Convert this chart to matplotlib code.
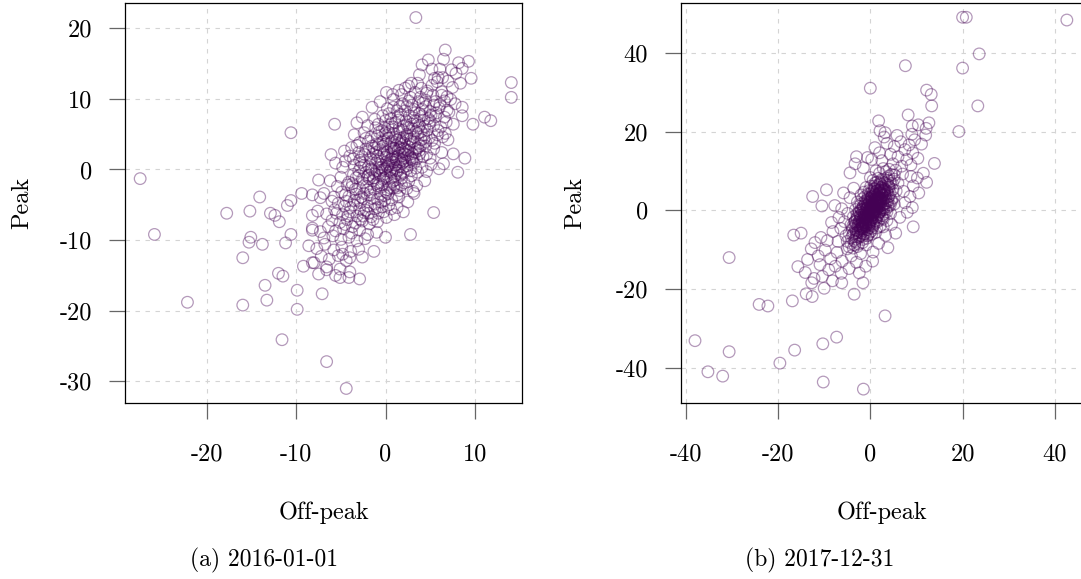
import matplotlib
matplotlib.use("Agg")
import matplotlib.pyplot as plt

# (a) 2016-01-01 : scattered points outside the main cloud
off_a_tail = [3.4, -27.5, -25.9, -22.2, -17.8, -16.0, -16.0, -15.2, -15.1, -15.3, -14.1, -13.8, -13.5, -13.3,
              -12.9, -12.4, -11.9, -12.0, -11.5, -11.6, -10.6, -11.0, -10.6, -10.6, -11.2, -9.4, -9.9, -9.9,
              -8.2, -7.3, -8.2, -8.2, -9.2, -8.2, -7.1, -6.6, -4.4, -6.6, -5.1, -5.1, -4.1, -2.9, -4.0, -4.0,
              -4.8, -1.3, -5.7, -6.1, -7.5, 5.4, 2.8, 8.1, 8.9, 14.1, 14.1, 11.1, 11.8, 9.8, 9.6, 9.3, 6.7,
              6.5, 4.1, 5.2, 5.9, 7.4, 8.6, 0.1, 8.6, 7.6, 6.5]
peak_a_tail = [21.5, -1.3, -9.2, -18.8, -6.2, -12.5, -19.2, -5.9, -9.6, -10.3, -3.9, -10.6, -16.4, -18.5,
               -6.2, -6.5, -7.4, -14.7, -15.1, -24.1, 5.2, -5.1, -4.4, -9.2, -10.4, -3.4, -17.1, -19.8,
               -3.6, -4.0, -6.5, -8.6, -13.7, -13.2, -17.6, -27.2, -31.0, -13.8, -14.1, -15.3, -15.3, -15.5,
               -14.5, -12.5, -12.0, -11.6, 6.4, 2.1, -1.5, -6.1, -9.2, -0.4, 1.6, 12.3, 10.2, 7.4, 6.9, 6.4,
               12.9, 15.3, 16.9, 15.6, 14.8, 14.2, 13.0, 14.1, 14.3, 10.9, 7.6, 2.2, 0.8]

# (a) main cloud
core_a = [
    (4.8, 15.5), (6.1, 14.2), (7.9, 13.6), (5.5, 12.9), (3.8, 13.4), (7.0, 12.5), (8.2, 15.1), (2.9, 12.2),
    (1.5, 11.2), (2.6, 11.8), (4.0, 11.5), (5.2, 11.9), (6.3, 11.0), (7.5, 11.6), (3.3, 10.9), (8.4, 12.2),
    (0.8, 10.6), (5.8, 12.4), (4.6, 10.8), (6.9, 10.3),
    (-0.6, 9.6), (0.9, 9.9), (1.9, 9.3), (2.8, 10.2), (3.7, 9.6), (4.5, 9.8), (5.4, 9.1), (6.6, 9.7),
    (7.8, 9.3), (-1.5, 8.8), (0.2, 8.6), (1.3, 8.3), (2.4, 8.9), (3.2, 8.0), (4.1, 8.5), (5.0, 8.2),
    (6.0, 8.7), (7.1, 8.1), (8.6, 8.8),
    (-2.6, 7.4), (-1.2, 7.1), (-0.3, 7.6), (0.6, 7.2), (1.7, 7.8), (2.3, 6.9), (3.1, 7.3), (4.3, 7.0),
    (5.6, 7.5), (6.8, 6.7), (-2.0, 6.2), (-0.8, 6.4), (0.3, 6.0), (1.1, 6.6), (2.0, 6.1), (2.9, 6.4),
    (3.8, 6.2), (4.9, 6.5), (6.2, 6.0), (7.6, 6.4), (1.5, 7.0), (3.5, 6.8), (-3.2, 6.6), (0.0, 6.9),
    (-3.5, 4.9), (-2.4, 5.2), (-1.6, 4.6), (-0.7, 5.3), (0.1, 4.8), (0.9, 5.1), (1.6, 4.4), (2.4, 5.0),
    (3.2, 4.6), (4.0, 5.3), (4.9, 4.5), (5.8, 4.9), (7.0, 4.2), (-2.9, 3.8), (-1.9, 4.0), (-1.0, 3.6),
    (-0.2, 4.1), (0.6, 3.8), (1.3, 4.2), (2.1, 3.7), (2.9, 4.0), (3.7, 3.6), (4.5, 3.9), (5.5, 3.7),
    (6.4, 4.6), (-0.4, 5.5), (1.9, 5.6), (3.4, 5.4),
    (-4.6, 2.6), (-3.8, 3.1), (-3.0, 2.4), (-2.2, 2.9), (-1.4, 2.2), (-0.6, 2.8), (0.2, 2.5), (0.9, 3.0),
    (1.6, 2.3), (2.3, 2.8), (3.0, 2.2), (3.8, 2.7), (4.6, 2.1), (5.4, 2.9), (6.3, 2.4), (-2.6, 1.8),
    (-1.7, 1.6), (-0.9, 1.9), (0.0, 1.7), (0.7, 1.5), (1.4, 1.9), (2.1, 1.6), (2.8, 1.8), (3.5, 1.5),
    (4.2, 1.8), (5.0, 1.6), (-0.3, 3.3), (1.2, 3.4), (2.6, 3.2), (-3.6, 1.5),
    (-5.6, 0.9), (-4.5, 1.2), (-3.5, 0.6), (-2.7, 1.0), (-1.9, 0.4), (-1.1, 0.9), (-0.4, 0.3), (0.3, 0.8),
    (1.0, 0.2), (1.7, 1.1), (2.4, 0.5), (3.2, 0.9), (4.1, 0.3), (5.1, 0.7), (6.0, 0.1), (-3.0, -0.2),
    (-2.2, -0.4), (-1.5, -0.1), (-0.7, -0.5), (0.0, -0.2), (0.7, -0.4), (1.3, -0.1), (2.0, -0.5),
    (2.8, -0.2), (3.6, -0.4), (4.6, -0.3), (0.5, 1.3), (-0.9, 1.2),
    (-6.2, -1.6), (-5.0, -1.1), (-4.1, -1.8), (-3.3, -1.2), (-2.5, -1.9), (-1.8, -1.3), (-1.0, -2.0),
    (-0.3, -1.4), (0.4, -2.1), (1.1, -1.5), (1.8, -2.2), (2.6, -1.7), (3.5, -2.3), (4.4, -1.6),
    (-3.8, -2.5), (-2.9, -2.7), (-2.1, -2.4), (-1.3, -2.8), (-0.5, -2.5), (0.2, -2.9), (0.9, -2.6),
    (1.6, -3.0), (2.4, -2.7), (3.1, -3.1),
    (-6.9, -3.4), (-5.8, -3.9), (-4.9, -3.2), (-4.1, -3.8), (-3.3, -3.5), (-2.5, -4.1), (-1.7, -3.6),
    (-0.9, -4.2), (-0.1, -3.7), (0.7, -4.3), (1.5, -3.9), (2.5, -4.6), (-5.3, -4.8), (-4.4, -4.5),
    (-3.6, -5.0), (-2.8, -4.7), (-2.0, -5.2), (-1.2, -4.9), (-0.4, -5.3), (0.4, -5.0), (1.3, -5.4),
    (3.2, -3.4),
    (-7.6, -5.9), (-6.6, -6.3), (-5.7, -5.7), (-4.8, -6.4), (-4.0, -6.0), (-3.2, -6.6), (-2.4, -6.1),
    (-1.6, -6.7), (-0.8, -6.2), (0.1, -6.8), (1.0, -6.4), (-6.0, -7.2), (-5.1, -7.5), (-4.3, -7.1),
    (-3.4, -7.6), (-2.6, -7.3), (-1.8, -7.7), (-0.9, -7.4), (2.0, -6.0),
    (-8.2, -8.3), (-7.3, -8.8), (-6.4, -8.1), (-5.6, -8.7), (-4.7, -8.4), (-3.8, -9.0), (-2.9, -8.6),
    (-2.0, -9.2), (-1.0, -8.9), (-6.9, -9.7), (-5.9, -9.4), (-5.0, -9.9), (-4.1, -9.6), (-3.2, -10.1),
    (-2.3, -9.8), (0.0, -9.6),
    (-8.6, -10.8), (-7.7, -11.2), (-6.8, -10.6), (-5.8, -11.4), (-4.9, -11.0), (-3.9, -11.6),
    (-3.0, -11.3), (-7.2, -12.3), (-6.3, -12.7), (-5.3, -12.2), (-4.4, -12.9), (-8.0, -13.2),
    (-2.6, -12.4), (-6.6, -14.2), (-7.5, -14.8), (-5.6, -15.0),
    (0.4, 0.6), (1.2, 1.4), (-0.5, 0.7), (0.8, 2.1), (1.9, 2.5), (-1.2, -0.6), (0.1, -1.0), (2.2, 1.2),
    (-0.2, 2.2), (1.5, 0.4), (2.7, 3.6), (0.6, 3.1), (-1.6, 0.1), (3.0, 1.3), (-0.8, -1.8), (1.0, -0.9),
    (2.3, 4.3), (-1.3, 3.0), (0.3, 4.4), (3.4, 2.9), (1.8, -1.2), (-2.0, -1.0), (0.9, 1.0), (-0.1, 0.1),
    (2.5, 2.0), (1.4, 2.8), (-0.6, -0.8), (3.9, 3.3), (2.0, 3.0), (0.0, 3.6),
    (-4.3, -2.2), (-3.6, -0.7), (-2.8, 0.3), (-2.3, 2.1), (-1.5, 3.3), (-0.9, 4.7), (-0.1, 5.9), (0.7, 6.5),
    (1.4, 7.5), (2.2, 8.3), (3.0, 9.1), (3.9, 10.2), (4.7, 11.1), (5.3, 10.5), (6.1, 9.2), (5.7, 8.0),
    (4.8, 7.2), (4.4, 6.1), (3.6, 5.1), (3.1, 3.9), (2.5, 2.6), (1.9, 1.4), (1.1, 0.6), (0.5, -0.3),
    (-0.2, -1.2), (-0.9, -2.3), (-1.7, -3.2), (-2.4, -3.4), (-3.1, -4.4), (-3.9, -5.4), (-4.6, -5.2),
    (-5.5, -6.2), (-4.5, -7.8), (-3.7, -8.1), (-2.8, -7.1), (-1.9, -6.2), (-1.2, -5.6), (-0.5, -4.6),
    (0.3, -3.4), (1.0, -2.2), (1.7, -0.8), (2.4, 0.1), (3.1, 1.6), (3.8, 2.2), (4.5, 3.3), (5.2, 4.1),
    (5.9, 5.5), (6.6, 7.4), (7.3, 9.9), (-1.1, 5.9), (-2.2, 4.4), (-3.2, 3.4), (-4.0, 1.9), (-4.8, 0.3),
    (-5.4, -2.4), (-6.0, -4.5), (0.9, 8.8), (1.8, 10.6), (2.2, 11.5), (3.6, 12.2), (6.4, 13.0), (6.9, 8.4),
    (5.4, 6.2), (6.7, 5.1), (4.3, 4.4), (3.4, 0.2), (2.9, -0.9), (2.1, -1.9), (1.3, -3.6), (0.6, -5.6),
    (-0.2, -6.0), (-1.4, -7.1), (-2.9, -5.6), (0.2, 0.4), (0.8, 1.8), (1.6, 3.1), (2.0, 4.5), (-0.6, 1.5),
    (-1.0, -0.2), (1.2, -0.5), (1.9, 0.9), (-0.3, 3.9), (0.4, 5.2), (1.1, 4.6), (2.6, 5.9), (3.3, 6.9),
    (-1.9, 2.6), (-2.6, -1.4), (-1.4, -1.6), (0.1, -3.2), (0.8, -1.7), (2.7, 1.1), (3.3, 2.4), (4.0, 4.2),
    (4.7, 5.6), (0.4, 7.9), (2.7, 7.6), (1.6, 5.3), (-0.6, -3.5),
    (0.1, 1.1), (0.9, 2.6), (1.7, 3.6), (2.4, 4.8), (3.0, 5.8), (3.8, 7.9), (4.5, 8.9), (-0.4, -0.1),
    (-1.3, -1.2), (-2.0, -2.9), (-2.7, -3.9), (-3.5, -4.4), (-4.2, -6.6), (1.4, -0.2), (2.0, 0.3),
    (2.9, 1.5), (3.6, 3.0), (4.3, 4.9), (5.0, 6.9), (-1.6, 1.4), (-2.4, 0.6), (-3.0, -0.9), (-3.7, -2.0),
    (-4.5, -3.6), (-0.8, 3.5), (0.0, 5.1), (0.8, 6.0), (1.6, 8.9), (2.6, 9.7), (0.6, -1.2), (1.3, -2.6),
    (-0.1, -4.4), (-0.9, -5.4), (-2.2, -5.8), (1.0, 2.9), (1.8, 3.9), (2.4, 6.3), (3.2, 8.5), (-1.1, 2.4),
    (-1.9, -0.8), (-0.4, -2.2), (0.5, -2.6), (0.2, 2.0), (0.7, 4.0), (1.5, 5.7), (2.8, 4.3), (3.7, 5.9),
    (4.1, 7.6), (-0.7, 0.2), (0.6, 0.0), (1.1, 1.7), (2.2, 2.2), (-2.9, 1.3), (-3.4, -2.8), (-1.5, -4.1),
    (-2.5, -6.6), (5.6, 9.6), (6.3, 10.5), (4.2, 9.4), (5.1, 7.7),
]

# (b) 2017-12-31 : scattered points outside the main cloud
off_b_tail = [20.0, 20.8, 42.6, 23.6, 20.0, 7.6, 0.0, 12.2, 13.2, 13.3, 23.3, 19.2, 8.2, 9.1, 10.4, 12.7,
              12.1, 12.0, 13.9, 1.8, 2.1, 3.2, 9.3, 3.8, 3.2, -1.5, -10.2, -10.3, -7.3, -16.4, -19.6, -30.6,
              -32.0, -35.2, -38.0, -30.6, -24.1, -22.2, -16.9, -13.9, -12.6, -10.0, -3.5, -1.6, -6.2, -12.7,
              -15.7, -16.6, -15.0, -12.5, -9.5, -10.5, -3.3, -4.4, -0.6, 0.5]
peak_b_tail = [49.0, 49.0, 48.3, 39.7, 36.1, 36.7, 31.0, 30.5, 29.4, 26.5, 26.5, 20.0, 24.2, 21.4, 21.7, 22.2,
               20.8, 19.1, 11.9, 22.7, 20.2, 19.7, -4.2, -9.5, -26.8, -45.4, -43.6, -33.9, -32.2, -35.5,
               -38.8, -35.9, -42.1, -41.0, -33.1, -12.0, -23.9, -24.3, -23.0, -21.2, -21.9, -19.8, -21.3,
               -18.4, -18.4, -18.4, -14.3, -6.3, -5.8, 3.5, 5.2, 1.1, 11.8, 9.5, 13.4, -12.9]

# (b) main cloud
core_b = [
    (1.0, 15.9), (3.6, 17.0), (5.2, 16.2), (6.6, 17.4), (7.5, 15.4), (8.4, 16.6), (9.6, 17.9), (4.4, 14.2),
    (6.0, 13.6), (7.9, 12.9), (9.2, 14.6), (10.3, 13.2), (2.5, 12.6), (4.9, 11.8), (6.8, 11.2), (8.8, 11.5),
    (11.1, 16.8), (3.0, 18.6), (5.8, 19.0), (9.0, 19.3), (11.5, 9.4), (10.2, 8.2), (12.2, 7.1), (0.3, 12.9),
    (-1.5, 10.8), (-3.0, 13.6), (2.0, 14.6), (7.0, 9.2), (8.8, 8.6),
    (-12.0, -8.2), (-10.7, -6.9), (-9.3, -7.7), (-8.1, -5.4), (-7.0, -7.9), (-6.4, -4.6), (-5.3, -6.5),
    (-9.8, -10.1), (-11.3, -11.6), (-8.6, -12.3), (-7.2, -10.7), (-6.1, -12.9), (-5.0, -9.8), (-4.1, -11.6),
    (-3.4, -8.8), (-10.9, -13.8), (-9.0, -15.1), (-7.6, -14.2), (-6.3, -16.0), (-4.6, -14.8), (-3.0, -13.2),
    (-2.1, -11.0), (-12.8, -9.8), (-13.6, -12.5), (-8.4, -3.1), (-6.8, -1.8), (-7.7, 1.2), (-6.2, 0.4),
    (-5.6, -2.9), (-4.9, -0.8), (-4.4, 3.2), (-3.6, 5.6), (-5.8, 4.4), (-2.4, -15.9), (-1.0, -14.2),
    (0.6, -10.6), (1.8, -8.4), (-12.2, -17.3), (-10.4, -16.8), (-8.2, -17.9), (-14.1, -15.8),
    (6.4, -1.8), (7.5, 1.9), (8.6, 3.5), (7.2, 4.8), (9.3, 6.2), (6.0, 6.9), (4.6, -3.6), (5.5, -5.8),
    (3.3, -6.4), (8.0, -0.5), (9.1, 0.7), (5.2, 8.9), (4.1, 10.4), (2.8, -4.2), (10.5, 4.4),
    (2.0, 9.4), (3.4, 9.8), (4.6, 9.1), (5.5, 10.2), (1.2, 10.0), (2.8, 10.6), (4.0, 8.7),
    (0.6, 7.6), (1.7, 8.1), (2.6, 7.3), (3.5, 8.2), (4.3, 7.4), (5.2, 7.9), (1.0, 6.9), (2.2, 6.6),
    (3.1, 7.0), (3.9, 6.4), (4.8, 6.8), (0.0, 8.3),
    (-0.9, 5.8), (0.1, 6.1), (0.9, 5.4), (1.6, 6.3), (2.4, 5.7), (3.2, 5.2), (4.0, 6.0), (4.9, 5.3),
    (-0.3, 5.0), (0.6, 4.7), (1.4, 5.0), (2.1, 4.6), (2.9, 4.9), (3.7, 4.4), (5.6, 4.9), (-1.4, 4.6),
    (-2.0, 3.9), (-1.2, 3.4), (-0.5, 4.1), (0.3, 3.6), (1.0, 4.0), (1.8, 3.3), (2.5, 3.8), (3.3, 3.1),
    (4.1, 3.6), (5.0, 3.2), (-1.7, 2.9), (-0.8, 2.6), (0.0, 3.0), (0.8, 2.7), (1.5, 3.0), (2.2, 2.5),
    (3.0, 2.8), (3.8, 2.4), (4.6, 2.7),
    (-2.8, 2.1), (-2.0, 1.6), (-1.2, 2.2), (-0.4, 1.7), (0.4, 2.1), (1.1, 1.5), (1.9, 2.0), (2.7, 1.4),
    (3.5, 1.9), (4.3, 1.3), (-2.4, 1.0), (-1.6, 0.8), (-0.8, 1.2), (0.0, 0.9), (0.7, 1.3), (1.4, 0.7),
    (2.2, 1.1), (3.0, 0.6), (3.9, 0.9), (5.2, 1.6),
    (-3.2, 0.2), (-2.4, -0.3), (-1.6, 0.3), (-0.9, -0.2), (-0.1, 0.4), (0.6, -0.1), (1.3, 0.3), (2.0, -0.3),
    (2.8, 0.1), (3.6, -0.4), (-2.9, -0.9), (-2.1, -1.2), (-1.3, -0.8), (-0.5, -1.1), (0.3, -0.7),
    (1.0, -1.2), (1.8, -0.9), (2.6, -1.3), (4.4, -0.8),
    (-3.7, -1.7), (-2.9, -2.1), (-2.1, -1.8), (-1.3, -2.3), (-0.5, -1.9), (0.3, -2.4), (1.1, -2.0),
    (1.9, -2.5), (2.8, -2.2), (-3.3, -2.8), (-2.5, -3.1), (-1.7, -2.7), (-0.9, -3.2), (-0.1, -2.9),
    (0.7, -3.3), (1.5, -3.0), (3.6, -2.6),
    (-4.2, -3.7), (-3.4, -4.0), (-2.6, -3.6), (-1.8, -4.2), (-1.0, -3.9), (-0.2, -4.4), (0.6, -4.0),
    (1.4, -4.5), (-3.9, -4.8), (-3.0, -5.1), (-2.2, -4.7), (-1.4, -5.2), (-0.6, -4.9), (0.2, -5.3),
    (2.1, -4.1),
    (-4.6, -5.8), (-3.8, -6.2), (-3.0, -5.7), (-2.2, -6.4), (-1.4, -6.0), (-0.6, -6.5), (0.3, -6.1),
    (-4.1, -7.0), (-3.2, -7.3), (-2.4, -6.9), (-1.6, -7.4), (-0.8, -7.1), (1.2, -5.6),
    (-5.0, -7.9), (-4.2, -8.4), (-3.3, -8.0), (-2.5, -8.6), (-1.7, -8.2), (-0.9, -8.8), (-4.6, -9.3),
    (-3.7, -9.6), (-2.8, -9.2),
    (0.5, 0.5), (1.0, 2.3), (-0.3, -0.5), (1.6, 1.8), (0.2, 1.5), (-1.0, -1.6), (2.3, 3.2), (0.8, -0.4),
    (-0.6, 0.6), (1.8, 4.1), (-1.8, -3.4), (0.1, -1.6), (2.5, 0.3), (-0.4, 2.8), (1.2, 3.6), (-2.3, -2.4),
    (0.9, 0.1), (1.5, -1.7), (-1.1, 1.6), (0.4, 2.6), (2.0, 5.2), (-1.5, -4.6), (3.1, 4.0), (-0.2, -3.6),
    (0.7, 4.3), (1.9, -0.6), (-2.7, -5.4), (2.7, 6.1), (0.0, -2.3), (-1.9, 0.0),
    (0.2, 0.2), (0.6, 0.9), (1.1, 1.9), (1.5, 2.6), (2.0, 3.4), (2.4, 4.5), (2.9, 5.6), (3.3, 6.6),
    (3.8, 7.6), (-0.3, -0.6), (-0.8, -1.4), (-1.2, -2.6), (-1.7, -3.7), (-2.1, -4.6), (-2.6, -5.8),
    (-3.1, -6.7), (-3.5, -7.7), (0.9, -0.8), (1.4, 0.0), (1.9, 1.0), (2.3, 2.0), (2.8, 3.0), (3.2, 3.9),
    (3.6, 4.9), (4.1, 5.8), (4.4, 6.8), (-0.1, -2.0), (-0.6, -3.0), (-1.0, -4.1), (-1.5, -4.8),
    (-1.9, -5.7), (-2.4, -6.7), (-0.4, 1.0), (0.0, 1.9), (0.4, 2.9), (0.9, 3.8), (1.3, 4.8), (1.7, 5.9),
    (2.1, 6.9), (2.5, 7.8), (-1.0, 0.1), (-1.4, -0.8), (-1.9, -1.9), (-2.3, -2.9), (-2.7, -4.0),
    (-3.2, -4.9), (-3.6, -5.9), (1.7, -1.2), (2.1, -0.4), (2.6, 0.6), (3.1, 1.6), (3.5, 2.5), (3.9, 3.4),
    (4.3, 4.4), (0.5, -1.9), (0.1, -2.9), (-0.3, -3.9), (-0.7, -4.9), (-1.1, -5.9), (-1.6, -6.6),
    (-0.8, 2.1), (-0.5, 3.2), (0.0, 4.2), (0.4, 5.1), (0.9, 6.2), (1.4, 7.1), (-1.5, 1.1), (-2.0, 0.3),
    (-2.5, -0.7), (-2.9, -1.8), (-3.4, -3.0), (-3.8, -4.0), (2.6, -1.9), (3.0, -0.9), (3.4, 0.3),
    (3.9, 1.4), (4.6, 2.3), (1.2, -2.6), (0.8, -3.6), (0.4, -4.6), (-0.1, -5.6), (-0.5, -6.3), (0.1, 0.6),
    (0.7, 1.6), (1.2, 2.9), (1.6, 3.9), (-0.5, -0.2), (-1.1, -1.1), (-1.6, -2.3), (-2.0, -3.5), (1.0, 0.4),
    (1.8, 1.7), (2.5, 2.9), (-0.2, -1.5), (-0.9, -2.6), (-1.3, -3.3), (0.3, 3.4), (2.1, 5.0), (-2.6, -5.2),
    (-3.0, -3.6), (0.6, -1.1), (1.5, -0.3), (-0.7, 0.5), (1.0, 5.5), (3.0, 4.6), (-1.8, -4.3),
    (0.3, 0.0), (0.8, 1.1), (1.3, 2.3), (1.8, 3.1), (2.2, 4.1), (2.7, 5.1), (-0.2, -1.0), (-0.7, -2.1),
    (-1.1, -3.0), (-1.6, -4.1), (-2.0, -5.0), (0.6, 0.6), (1.1, 1.0), (1.6, 2.1), (2.0, 2.8), (2.6, 3.8),
    (3.0, 5.3), (-0.5, -0.3), (-0.9, -0.9), (-1.4, -1.8), (-1.8, -2.7), (-2.3, -3.9), (0.0, 0.3),
    (0.5, 1.8), (1.0, 2.8), (1.4, 3.3), (1.9, 4.4), (2.3, 5.8), (-0.4, -1.3), (-0.8, -2.4), (-1.2, -3.6),
    (-1.6, -4.4), (0.7, -0.7), (1.2, -0.1), (1.7, 0.8), (2.1, 1.5), (2.6, 2.4), (-0.6, 1.3), (-0.2, 2.3),
    (0.2, 3.2), (-1.3, 0.4), (-1.7, -0.5), (-2.2, -1.4), (0.4, -1.4), (0.0, -2.5), (-0.4, -3.2), (1.5, 1.2),
    (0.2, -0.4), (0.9, 2.0), (-1.0, -2.0),
]

xticks_a = [-20, -10, 0, 10]
yticks_a = [-30, -20, -10, 0, 10, 20]
xticks_b = [-40, -20, 0, 20, 40]
yticks_b = [-40, -20, 0, 20, 40]
captions = ['(a) 2016-01-01', '(b) 2017-12-31']

plt.rcParams['font.family'] = 'cmr10'
plt.rcParams['axes.unicode_minus'] = False

W, H = 1081, 579
fig = plt.figure(figsize=(W / 100, H / 100), dpi=100)

purple = '#440154'


def px_axes(l, t, r, b):
    return fig.add_axes([l / W, 1 - b / H, (r - l) / W, (b - t) / H])


def style(ax, xt, yt, xlim, ylim):
    ax.set_xlim(xlim)
    ax.set_ylim(ylim)
    ax.set_xticks(xt, [str(v) for v in xt])
    ax.set_yticks(yt, [str(v) for v in yt])
    ax.tick_params(axis='both', direction='out', length=11.5, width=0.9, color='#666666',
                   labelsize=17.5, labelcolor='black')
    ax.tick_params(axis='x', pad=17)
    ax.tick_params(axis='y', pad=12)
    ax.grid(True, color='#d4d4d4', linewidth=0.8, linestyle=(0, (4, 5)))
    ax.set_axisbelow(True)
    for s in ax.spines.values():
        s.set_linewidth(0.9)
        s.set_color('black')
    ax.set_xlabel('Off-peak', fontsize=17.5)
    ax.set_ylabel('Peak', fontsize=17.5)
    ax.xaxis.set_label_coords(0.5, -0.245)


def draw(ax, xs, ys):
    ax.scatter(xs, ys, s=70, facecolors='none', edgecolors=purple, linewidths=0.9, alpha=0.4)


ax1 = px_axes(125, 2.7, 522, 403.3)
ax2 = px_axes(680.7, 2.7, 1083, 403.3)

draw(ax1, off_a_tail + [p[0] for p in core_a], peak_a_tail + [p[1] for p in core_a])
draw(ax2, off_b_tail + [p[0] for p in core_b], peak_b_tail + [p[1] for p in core_b])

style(ax1, xticks_a, yticks_a, (-29.2, 15.3), (-33.1, 23.6))
style(ax2, xticks_b, yticks_b, (-41.1, 46.1), (-49.0, 52.7))
ax1.yaxis.set_label_coords(-0.232, 0.5)
ax2.yaxis.set_label_coords(-0.236, 0.5)

fig.text(264 / W, 1 - 560 / H, captions[0], ha='center', va='center', fontsize=17)
fig.text(820 / W, 1 - 560 / H, captions[1], ha='center', va='center', fontsize=17)

fig.savefig('out.png', dpi=100)
